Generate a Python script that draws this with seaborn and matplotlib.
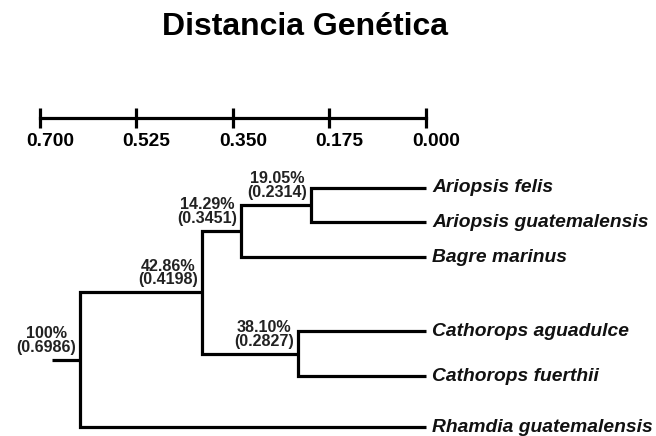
import numpy as np
import pandas as pd
import matplotlib
matplotlib.use('Agg')
import matplotlib.pyplot as plt
import seaborn as sns
from matplotlib.transforms import ScaledTranslation

# ---------------- data ----------------
title = 'Distancia Genética'
species = ['Ariopsis felis', 'Ariopsis guatemalensis', 'Bagre marinus',
           'Cathorops aguadulce', 'Cathorops fuerthii', 'Rhamdia guatemalensis']
leaf_rows = [0, 1, 2, 4.15, 5.45, 6.93]          # vertical layout of leaves
# internal nodes: children indices (leaves 0-5, nodes 6-10)
node_children = [(0, 1), (6, 2), (3, 4), (7, 8), (9, 5)]
node_pct = ['19.05%', '14.29%', '38.10%', '42.86%', '100%']
node_dist = [0.2314, 0.3451, 0.2827, 0.4198, 0.6986]
node_drawn = [0.2085, 0.3355, 0.2321, 0.4062, 0.6275]   # drawn position on scale
root_stub = 0.678
scale_ticks = [0.700, 0.525, 0.350, 0.175, 0.000]

# ---------------- style ----------------
sns.set_theme(style='white')
plt.rcParams['font.family'] = ['Liberation Sans', 'DejaVu Sans']

W, H = 656, 436
fig = plt.figure(figsize=(W / 100, H / 100), dpi=100)
XLIM = (0.7725, -0.4171)
LW = 2.3

# ---------------- tree ----------------
ax = fig.add_axes([0, 0, 1, 1])
xs = [0.0] * len(species) + list(node_drawn)
ys = list(leaf_rows)
for c1, c2 in node_children:
    ys.append((ys[c1] + ys[c2]) / 2)

rows = []
for k, (c1, c2) in enumerate(node_children):
    n = len(species) + k
    pts = [(xs[c1], ys[c1]), (xs[n], ys[c1]), (xs[n], ys[c2]), (xs[c2], ys[c2])]
    for j, (px, py) in enumerate(pts):
        rows.append(dict(seg=k, order=j, x=px, y=py))
root = len(xs) - 1
for j, (px, py) in enumerate([(xs[root], ys[root]), (root_stub, ys[root])]):
    rows.append(dict(seg=len(node_children), order=j, x=px, y=py))
df = pd.DataFrame(rows)

sns.lineplot(data=df, x='x', y='y', units='seg', estimator=None, sort=False,
             color='black', lw=LW, ax=ax, legend=False)
for ln in ax.lines:
    ln.set_solid_joinstyle('miter')
    ln.set_solid_capstyle('butt')

ax.set_xlim(*XLIM)
ax.set_ylim(248 / 34.5, -188 / 34.5)
ax.axis('off')

for i, name in enumerate(species):
    ax.annotate(name, (0, ys[i]), xytext=(6, 0), textcoords='offset pixels',
                ha='left', va='center', fontsize=13.9, fontweight='bold',
                fontstyle='italic', color='#111111')

for k, (pct, d) in enumerate(zip(node_pct, node_dist)):
    n = len(species) + k
    ax.annotate(f'{pct}\n({d:.4f})', (xs[n], ys[n]), xytext=(-4, 5),
                textcoords='offset pixels', ha='right', va='bottom',
                multialignment='center', fontsize=11.6, fontweight='bold',
                linespacing=0.9, color='#222222')

# ---------------- scale bar ----------------
ax2 = fig.add_axes([0, 1 - 118 / H, 1, 0.05])
ax2.patch.set_visible(False)
ax2.set_xlim(*XLIM)
for s in ['top', 'left', 'right']:
    ax2.spines[s].set_visible(False)
ax2.spines['bottom'].set_linewidth(LW)
ax2.spines['bottom'].set_color('black')
ax2.spines['bottom'].set_bounds(0, 0.7)
ax2.set_xticks(scale_ticks)
ax2.set_xticklabels([f'{t:.3f}' for t in scale_ticks])
ax2.set_yticks([])
ax2.tick_params(axis='x', direction='inout', length=15, width=LW, pad=3,
                labelsize=13.8, colors='black', bottom=True)
off = ScaledTranslation(10 / 100, 0, fig.dpi_scale_trans)
for lbl in ax2.get_xticklabels():
    lbl.set_fontweight('bold')
    lbl.set_transform(lbl.get_transform() + off)

# ---------------- title ----------------
fig.text(305 / W, 1 - 35 / H, title, ha='center', va='baseline',
         fontsize=23, fontweight='bold', color='black')

fig.savefig('out.png', dpi=100)
